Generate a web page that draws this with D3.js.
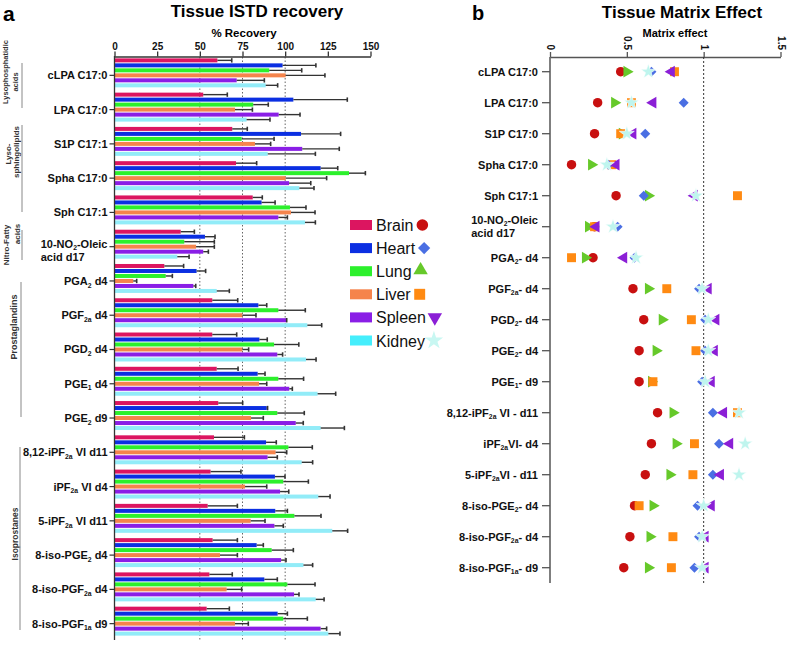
<!DOCTYPE html>
<html><head><meta charset="utf-8">
<script src="https://cdn.jsdelivr.net/npm/d3@7"></script>
<style>
body{margin:0;background:#fff}
svg{display:block}
text{font-family:"Liberation Sans",Arial,Helvetica,sans-serif}
</style>
</head><body>
<svg id="c" width="787" height="646"></svg>
<script>
// ---------- DATA ----------
const tissues = ["Brain","Heart","Lung","Liver","Spleen","Kidney"];

const categoriesA = ["cLPA C17:0","LPA C17:0","S1P C17:1","Spha C17:0","Sph C17:1","10-NO{2}-Oleic|acid d17",
  "PGA{2} d4","PGF{2a} d4","PGD{2} d4","PGE{1} d4","PGE{2} d9","8,12-iPF{2a} VI d11","iPF{2a} VI d4",
  "5-iPF{2a} VI d11","8-iso-PGE{2} d4","8-iso-PGF{2a} d4","8-iso-PGF{1a} d9"];

const recoveryTicks = [0,25,50,75,100,125,150];
const gridValues = [50,75,100];

// % recovery (mean) per tissue, one value per categoriesA entry
const recBrain  = [60.3,52,69,71.2,81,38.8,29.2,57.3,57.3,59.9,60.8,58.3,56.3,54.6,57.5,55.6,54];
const recHeart  = [98.5,104.8,109.3,120.8,86.2,53,48.1,84.3,84.9,83.9,89.2,88.8,94,94.2,83.3,87.8,95.6];
const recLung   = [90.7,81.3,74.5,137.4,102.8,40.9,30,96,93.5,96,95.4,101.9,98.9,105.4,92.1,101.3,98.9];
const recLiver  = [100.3,70.6,82.3,100.3,103.4,47.8,11,74.9,74.9,84.7,80,94.4,76.5,79.8,61.8,65.7,70.6];
const recSpleen = [71.6,96.2,110,102.3,96,52,46.2,100.5,95.4,102.4,106.2,89.7,97,93.7,97.6,105.2,120.8];
const recKidney = [88.6,77.4,89.8,108.3,111.6,36.8,59.9,113,112.2,119,120.8,109.7,119.4,127.6,110.7,117.9,125.3];

// error (SD) per tissue
const sdBrain  = [8.4,14.1,8.8,12.1,5.6,8,11.3,14.9,14.3,12.5,14.3,17.8,17.8,17.4,14.5,13.4,13.3];
const sdHeart  = [19.5,31.6,23.2,10,7.9,5.9,5.3,4.9,4.6,4.3,0.5,6,5.9,7.1,3.9,7.6,5.7];
const sdLung   = [19,8.8,19,9.6,9.4,17.6,3.9,15.8,14.5,14.8,15.8,14,14.7,15.6,12.7,16.2,14.1];
const sdLiver  = [23,10.2,9.2,24,14.1,10.7,2,8,3.7,4.5,7.2,6.5,12.7,8.4,10.2,8.8,7.8];
const sdSpleen = [16.2,12.5,21.7,12.7,5.3,3,1.4,0.4,3.1,1.8,4.4,5.7,5.1,5.2,2.9,2.9,3.5];
const sdKidney = [7,13.7,27.9,8.6,6.1,6.9,7.4,8.4,5.9,10.6,13.9,6.4,6.9,9,5.4,4.9,6.8];

const categoriesB = ["cLPA C17:0","LPA C17:0","S1P C17:0","Spha C17:0","Sph C17:1","10-NO{2}-Oleic|acid d17",
  "PGA{2}- d4","PGF{2a}- d4","PGD{2}- d4","PGE{2}- d4","PGE{1}- d9","8,12-iPF{2a} VI - d11","iPF{2a}VI- d4",
  "5-iPF{2a}VI - d11","8-iso-PGE{2}- d4","8-iso-PGF{2a}- d4","8-iso-PGF{1a}- d9"];

const matrixTicks = [0,0.5,1,1.5];

// matrix effect per tissue, one value per categoriesB entry
const meBrain  = [0.46,0.31,0.29,0.14,0.43,0.29,0.28,0.54,0.61,0.58,0.58,0.70,0.66,0.62,0.55,0.52,0.48];
const meHeart  = [0.66,0.87,0.62,0.38,0.61,0.44,0.55,0.97,1.01,1.01,0.99,1.06,1.10,1.06,0.96,0.97,0.94];
const meLung   = [0.50,0.42,0.47,0.27,0.64,0.25,0.23,0.64,0.73,0.69,0.66,0.80,0.82,0.78,0.67,0.65,0.64];
const meLiver  = [0.81,0.53,0.46,0.40,1.22,0.29,0.14,0.76,0.92,0.95,0.67,1.22,0.94,0.93,0.58,0.80,0.79];
const meSpleen = [0.79,0.67,0.54,0.43,0.94,0.30,0.48,1.03,1.08,1.07,1.05,1.13,1.17,1.11,1.05,1.01,1.01];
const meKidney = [0.64,0.53,0.50,0.37,0.95,0.41,0.56,0.99,1.03,1.03,1.01,1.23,1.27,1.23,1.00,0.99,0.99];

const classGroups = [
  {lines:["Lysophosphatidic","acids"]},
  {lines:["Lyso-","sphingolipids"]},
  {lines:["Nitro-Fatty","acids"]},
  {lines:["Prostaglandins"]},
  {lines:["Isoprostanes"]}
];

// ---------- STYLE ----------
const barColor = {Brain:"#dc1560",Heart:"#0b2fe2",Lung:"#2cf02c",Liver:"#f5844c",Spleen:"#8a1ee6",Kidney:"#92ecf8"};
const swatchColor = {Brain:"#dc1560",Heart:"#0b2fe2",Lung:"#2cf02c",Liver:"#f5844c",Spleen:"#8a1ee6",Kidney:"#45eefc"};
const markColor = {Brain:"#c81010",Heart:"#4a6fe3",Lung:"#66c92a",Liver:"#ff8a12",Spleen:"#8b1fd6",Kidney:"#bff5ee"};

const recMean = {Brain:recBrain,Heart:recHeart,Lung:recLung,Liver:recLiver,Spleen:recSpleen,Kidney:recKidney};
const recSd = {Brain:sdBrain,Heart:sdHeart,Lung:sdLung,Liver:sdLiver,Spleen:sdSpleen,Kidney:sdKidney};
const matrix = {Brain:meBrain,Heart:meHeart,Lung:meLung,Liver:meLiver,Spleen:meSpleen,Kidney:meKidney};

const svg = d3.select("#c");
const FONT = '"Liberation Sans",Arial,Helvetica,sans-serif';

function rich(textSel, s, size){
  const parts = s.split(/(\{[^}]*\})/).filter(p=>p.length);
  let shifted = false;
  parts.forEach(p=>{
    const t = textSel.append("tspan");
    if (p[0]==="{"){
      t.text(p.slice(1,-1)).attr("font-size", size*0.62).attr("dy", shifted?0:size*0.25);
      shifted = true;
    } else {
      t.text(p);
      if (shifted){ t.attr("dy", -size*0.25); shifted=false; }
    }
  });
}

function catLabel(g, str, xEnd, y, size, firstOff, secondOff){
  const lines = str.split("|");
  if (lines.length===1){
    const t = g.append("text").attr("x",xEnd).attr("y",y+size*0.36).attr("text-anchor","end")
      .attr("font-size",size).attr("font-weight","bold").attr("fill","#111");
    rich(t, lines[0], size);
  } else {
    const t1 = g.append("text").attr("x",xEnd).attr("y",y+firstOff).attr("text-anchor","end")
      .attr("font-size",size).attr("font-weight","bold").attr("fill","#111");
    rich(t1, lines[0], size);
    const bx = t1.node().getBBox().x;
    const t2 = g.append("text").attr("x",bx).attr("y",y+secondOff).attr("text-anchor","start")
      .attr("font-size",size).attr("font-weight","bold").attr("fill","#111");
    rich(t2, lines[1], size);
  }
}

// ---------- PANEL A ----------
const xA = d3.scaleLinear().domain([0,150]).range([114.5,370.5]);
const yA = d3.scaleBand().domain(categoriesA).range([57,637]).paddingInner(0.155).paddingOuter(0.04);
const yIn = d3.scaleBand().domain(tissues).range([0,yA.bandwidth()]).paddingInner(0.2);
const tickYA = c => yA(c) + yIn("Liver") + yIn.bandwidth()/2;

const gA = svg.append("g");
gA.append("text").attr("x",3).attr("y",21).attr("font-size",21).attr("font-weight","bold").text("a");
gA.append("text").attr("x",257).attr("y",17).attr("text-anchor","middle").attr("font-size",17)
  .attr("font-weight","bold").text("Tissue ISTD recovery");
gA.append("text").attr("x",244).attr("y",37).attr("text-anchor","middle").attr("font-size",11.5)
  .attr("font-weight","bold").text("% Recovery");

// grid
gA.selectAll(".grid").data(gridValues).join("line")
  .attr("x1",d=>xA(d)).attr("x2",d=>xA(d)).attr("y1",57).attr("y2",641)
  .attr("stroke","#666").attr("stroke-width",1).attr("stroke-dasharray","1.5,2");

// bars
const groups = gA.selectAll(".grp").data(categoriesA).join("g")
  .attr("transform",c=>`translate(0,${yA(c)})`);
tissues.forEach(t=>{
  groups.append("rect")
    .attr("x",xA(0)).attr("y",yIn(t)).attr("height",yIn.bandwidth())
    .attr("width",c=>xA(recMean[t][categoriesA.indexOf(c)])-xA(0))
    .attr("fill",barColor[t]);
});
tissues.forEach(t=>{
  groups.each(function(c){
    const i = categoriesA.indexOf(c);
    const m = recMean[t][i], s = recSd[t][i];
    const yc = yIn(t)+yIn.bandwidth()/2;
    const g = d3.select(this);
    g.append("line").attr("x1",xA(m)).attr("x2",xA(m+s)).attr("y1",yc).attr("y2",yc)
      .attr("stroke","#333").attr("stroke-width",1.4);
    g.append("line").attr("x1",xA(m+s)).attr("x2",xA(m+s)).attr("y1",yc-2.2).attr("y2",yc+2.2)
      .attr("stroke","#333").attr("stroke-width",1.6);
  });
});

// axes
const axA = gA.append("g").attr("transform","translate(0,56.5)")
  .call(d3.axisTop(xA).tickValues(recoveryTicks).tickSize(5).tickSizeOuter(0));
axA.select(".domain").attr("stroke","#333").attr("stroke-width",1.3);
axA.selectAll(".tick line").attr("stroke","#333").attr("stroke-width",1.3);
axA.selectAll(".tick text").attr("font-size",10).attr("font-weight","bold").attr("fill","#111")
  .attr("font-family",FONT).attr("y",-7);
gA.append("line").attr("x1",xA(0)).attr("x2",xA(0)).attr("y1",56).attr("y2",640)
  .attr("stroke","#333").attr("stroke-width",1.3);
categoriesA.forEach(c=>{
  const y = tickYA(c);
  gA.append("line").attr("x1",xA(0)-5).attr("x2",xA(0)).attr("y1",y).attr("y2",y)
    .attr("stroke","#333").attr("stroke-width",1.2);
  catLabel(gA, c, xA(0)-7, y, 11, 1, 14.5);
});

// class brackets
const classPos = [
  {cx:[5,15], cy:[72,82], lx:22, y1:63, y2:108, fs:7.5},
  {cx:[8.5,16.5], cy:[154,152], lx:22, y1:125, y2:212, fs:8},
  {cx:[6,17], cy:[245,234], lx:22, y1:230, y2:260, fs:8},
  {cx:[13.5], cy:[327], lx:21, y1:282, y2:417, fs:9},
  {cx:[15], cy:[534], lx:20, y1:447, y2:630, fs:8.5}
];
classGroups.forEach((cg,k)=>{
  const p = classPos[k];
  cg.lines.forEach((ln,j)=>{
    gA.append("text").attr("transform",`translate(${p.cx[j]},${p.cy[j]}) rotate(-90)`)
      .attr("text-anchor","middle").attr("dy","0.35em").attr("font-size",p.fs)
      .attr("font-weight","bold").attr("fill","#333").text(ln);
  });
  gA.append("line").attr("x1",p.lx).attr("x2",p.lx).attr("y1",p.y1).attr("y2",p.y2)
    .attr("stroke","#888").attr("stroke-width",1);
});

// ---------- SYMBOLS ----------
function symPath(t, size){
  const type = {Brain:d3.symbolCircle,Heart:d3.symbolSquare,Lung:d3.symbolTriangle,
    Liver:d3.symbolSquare,Spleen:d3.symbolTriangle,Kidney:d3.symbolStar}[t];
  return d3.symbol().type(type).size(size)();
}
const symSize = {Brain:70,Heart:50,Lung:60,Liver:80,Spleen:60,Kidney:70};
const baseRot = {Brain:0,Heart:45,Lung:0,Liver:0,Spleen:0,Kidney:0};

// legend
const legY = d3.scalePoint().domain(tissues).range([225,340.5]);
const gL = svg.append("g");
tissues.forEach(t=>{
  const y = legY(t);
  gL.append("rect").attr("x",350).attr("y",y-5).attr("width",22).attr("height",10).attr("fill",swatchColor[t]);
  const tx = gL.append("text").attr("x",376).attr("y",y+6).attr("font-size",16).attr("fill","#111").text(t);
  const end = 376 + tx.node().getComputedTextLength();
  const rot = t==="Spleen" ? 180 : baseRot[t];
  gL.append("path").attr("d",symPath(t, symSize[t]*1.5))
    .attr("transform",`translate(${end+9},${y+ (t==="Lung"?-1:0)}) rotate(${rot})`)
    .attr("fill", t==="Kidney" ? "#c8f7f2" : markColor[t]);
});

// ---------- PANEL B ----------
const xB = d3.scaleLinear().domain([0,1.5]).range([550,780.5]);
const yB = d3.scalePoint().domain(categoriesB).range([71.7,567.7]);
const gB = svg.append("g");
gB.append("text").attr("x",472).attr("y",19.5).attr("font-size",20).attr("font-weight","bold").text("b");
gB.append("text").attr("x",682).attr("y",17.5).attr("text-anchor","middle").attr("font-size",17)
  .attr("font-weight","bold").text("Tissue Matrix Effect");
gB.append("text").attr("x",675).attr("y",37).attr("text-anchor","middle").attr("font-size",11)
  .attr("font-weight","bold").text("Matrix effect");

const axB = gB.append("g").attr("transform","translate(0,57)")
  .call(d3.axisTop(xB).tickValues(matrixTicks).tickFormat(d=>String(d)).tickSize(5).tickSizeOuter(0));
axB.select(".domain").attr("stroke","#555").attr("stroke-width",1.5);
axB.selectAll(".tick line").attr("stroke","#555").attr("stroke-width",1.3);
axB.selectAll(".tick text").attr("font-size",10).attr("font-weight","bold").attr("fill","#111")
  .attr("font-family",FONT).attr("x",-7).attr("y",0).attr("dy","0.35em")
  .attr("text-anchor","end").attr("transform","rotate(90)");

gB.append("line").attr("x1",xB(0)).attr("x2",xB(0)).attr("y1",57).attr("y2",583)
  .attr("stroke","#555").attr("stroke-width",1.5);
gB.append("line").attr("x1",xB(1)).attr("x2",xB(1)).attr("y1",57).attr("y2",583)
  .attr("stroke","#333").attr("stroke-width",1).attr("stroke-dasharray","2,2");

categoriesB.forEach(c=>{
  const y = yB(c);
  gB.append("line").attr("x1",xB(0)-8).attr("x2",xB(0)).attr("y1",y).attr("y2",y)
    .attr("stroke","#555").attr("stroke-width",1.3);
  catLabel(gB, c, 538, y, 11, -3, 10.5);
});

const drawOrder = ["Brain","Lung","Liver","Heart","Spleen","Kidney"];
drawOrder.forEach(t=>{
  gB.selectAll(null).data(categoriesB).join("path")
    .attr("d",symPath(t, symSize[t]))
    .attr("transform",(c,i)=>{
      const rot = t==="Lung" ? 90 : (t==="Spleen" ? -90 : baseRot[t]);
      return `translate(${xB(matrix[t][i])},${yB(c)}) rotate(${rot})`;
    })
    .attr("fill",markColor[t])
    .attr("stroke", t==="Kidney" ? "#ffffff" : "none")
    .attr("stroke-width", t==="Kidney" ? 0.6 : 0);
});
</script>
</body></html>
